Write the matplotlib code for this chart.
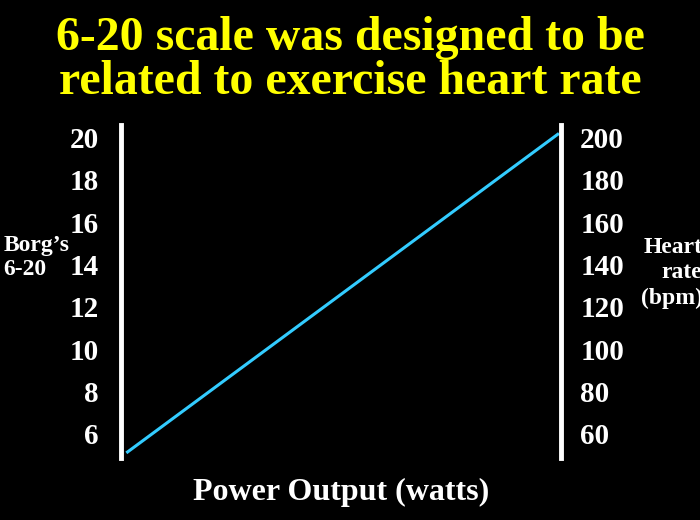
import matplotlib
matplotlib.use("Agg")
import matplotlib.pyplot as plt

power = [0, 1]
borg = [5.15, 20.15]
left_ticks = [6, 8, 10, 12, 14, 16, 18, 20]
right_labels = ["60", "80", "100", "120", "140", "160", "180", "200"]

plt.rcParams['font.family'] = ['Liberation Serif', 'DejaVu Serif']
plt.rcParams['font.weight'] = 'bold'

fig = plt.figure(figsize=(7, 5.2), dpi=100, facecolor='black')
ax = fig.add_axes([0.173, 0.119, 0.628, 0.641], facecolor='black')
ax.plot(power, borg, color='#33ccff', lw=2.2)
ax.set_xlim(-0.015, 1.007)
ax.set_ylim(4.86, 20.6)
for s in ['top', 'bottom']:
    ax.spines[s].set_visible(False)
for s in ['left', 'right']:
    ax.spines[s].set_color('white')
    ax.spines[s].set_linewidth(3.5)
ax.set_xticks([])
ax.set_yticks(left_ticks)
ax.set_yticklabels([str(t) for t in left_ticks], color='white', fontsize=21, fontweight='bold')
ax.tick_params(axis='y', length=0, pad=16)
ax2 = ax.twinx()
ax2.set_ylim(ax.get_ylim())
ax2.set_yticks(left_ticks)
ax2.set_yticklabels(right_labels, color='white', fontsize=21, fontweight='bold')
ax2.tick_params(axis='y', length=0, pad=14)
for s in ax2.spines.values():
    s.set_visible(False)

ax.set_xlabel("Power Output (watts)", color='white', fontsize=23, fontweight='bold', labelpad=14)

fig.text(0.5, 0.885, "6-20 scale was designed to be\nrelated to exercise heart rate",
         ha='center', va='center', color='#ffff00', fontsize=34.5, fontweight='bold', linespacing=1.0)
fig.text(0.005, 0.505, "Borg’s\n6-20", ha='left', va='center', color='white', fontsize=17, fontweight='bold')
fig.text(0.915, 0.475, "Heart\nrate\n(bpm)", ha='left', va='center', color='white', fontsize=17,
         fontweight='bold', multialignment='right', linespacing=1.25)

fig.savefig("out.png", facecolor='black')
